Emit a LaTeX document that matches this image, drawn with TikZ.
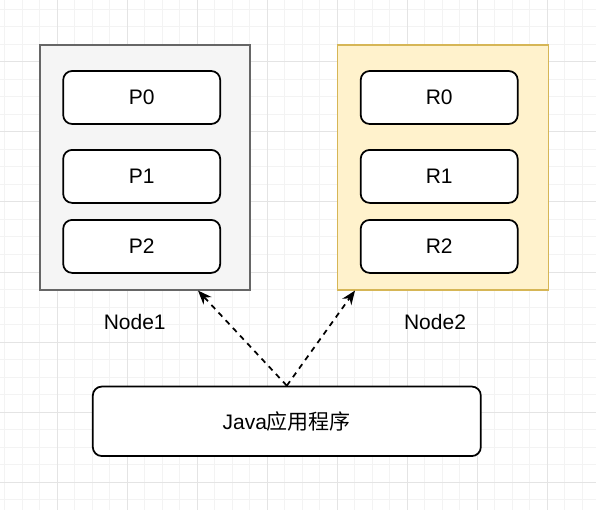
\documentclass[tikz,border=0pt]{standalone}
\usepackage{fontspec}
\setmainfont{Liberation Sans}
\newfontfamily\cjk{Noto Sans CJK SC}
\usetikzlibrary{arrows.meta}

\definecolor{gridminor}{HTML}{F3F3F3}
\definecolor{gridmajor}{HTML}{E4E4E4}
\definecolor{grayfill}{HTML}{F5F5F5}
\definecolor{grayline}{HTML}{666666}
\definecolor{yellowfill}{HTML}{FFF2CC}
\definecolor{yellowline}{HTML}{D6B656}

\begin{document}
\begin{tikzpicture}[x=1pt, y=-1pt,
  every node/.style={font=\fontsize{21}{25}\selectfont},
  host/.style={draw, line width=1.75pt, inner sep=0pt, minimum width=210pt, minimum height=245pt},
  part/.style={draw, line width=1.75pt, rounded corners=9pt, fill=white, inner sep=0pt, minimum width=157pt, minimum height=53pt},
  call/.style={line width=1.75pt, dash pattern=on 5.5pt off 5pt, -{Stealth[length=14pt, width=11pt]}}]

  % Background grid
  \useasboundingbox[fill=white] (0,0) rectangle (596,510);
  \foreach \i in {0,...,33} \draw[gridminor, line width=1pt] ({4.5+17.5*\i},0) -- ++(0,510);
  \foreach \j in {0,...,28} \draw[gridminor, line width=1pt] (0,{9.5+17.5*\j}) -- ++(596,0);
  \foreach \i in {0,...,7} \draw[gridmajor, line width=1pt] ({57+70*\i},0) -- ++(0,510);
  \foreach \j in {0,...,6} \draw[gridmajor, line width=1pt] (0,{62+70*\j}) -- ++(596,0);

  % Node1
  \node[host, fill=grayfill, draw=grayline] (hostA) at (145,167.2) {};
  \node[part] (p0) at (141.7,97.5) {P0};
  \node[part] (p1) at (141.7,176.4) {P1};
  \node[part] (p2) at (141.7,246.4) {P2};
  \node (nodeA) at (134.7,321.5) {Node1};

  % Node2
  \node[host, fill=yellowfill, draw=yellowline, minimum width=211pt] (hostB) at (443,167.2) {};
  \node[part] (r0) at (439.2,97.5) {R0};
  \node[part] (r1) at (439.2,176.4) {R1};
  \node[part] (r2) at (439.2,246.4) {R2};
  \node (nodeB) at (435,321.5) {Node2};

  % Application
  \node[part, minimum width=388pt, minimum height=69.5pt] (app) at (286.8,421.3) {Java{\cjk 应用程序}};

  % Connections
  \draw[call] (app.north) -- ([xshift=53pt]hostA.south);
  \draw[call] (app.north) -- ([xshift=-88pt]hostB.south);

\end{tikzpicture}
\end{document}
